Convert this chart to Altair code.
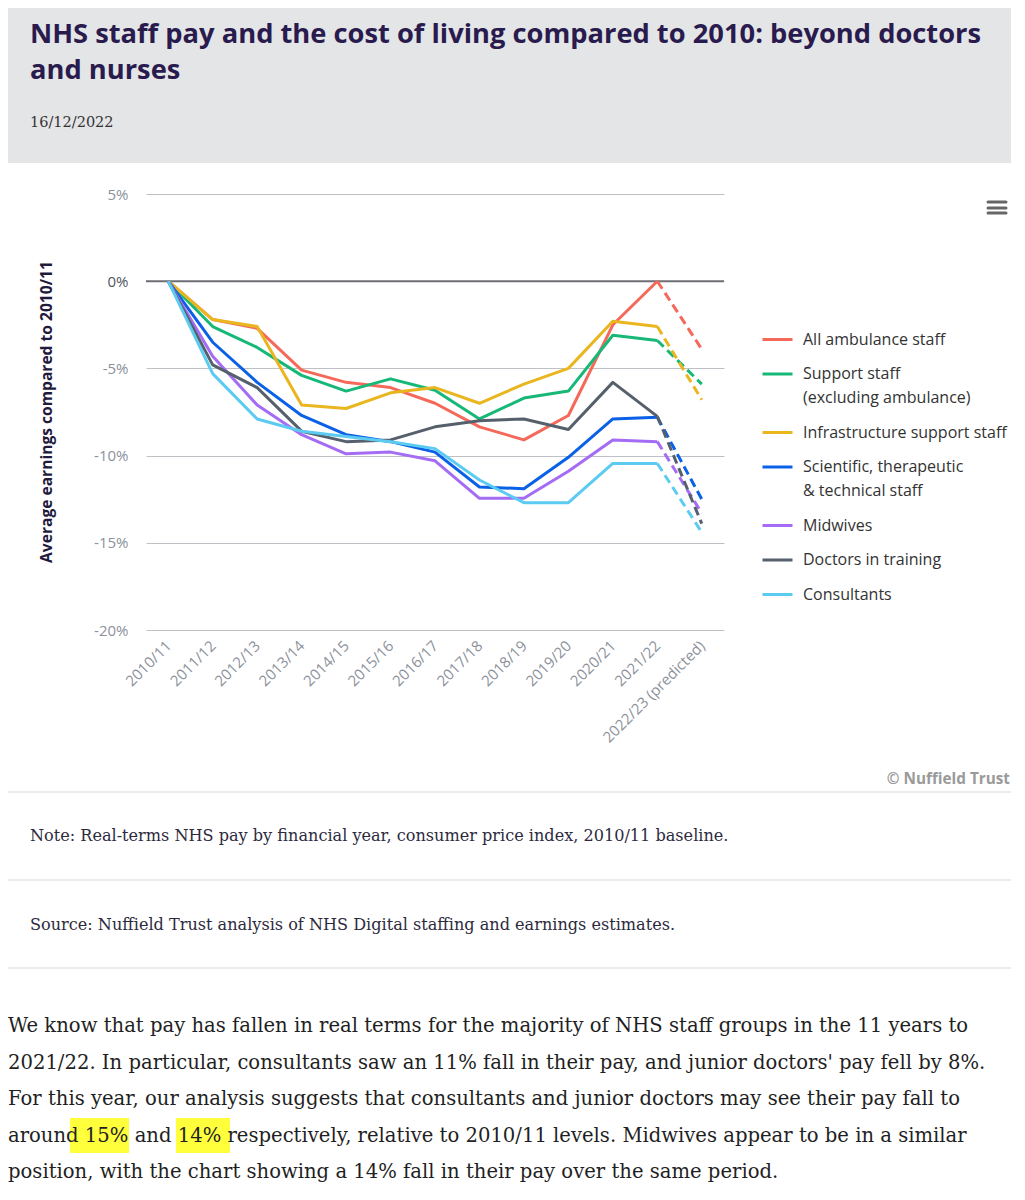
import altair as alt
import pandas as pd

years = ["2010/11", "2011/12", "2012/13", "2013/14", "2014/15", "2015/16", "2016/17",
         "2017/18", "2018/19", "2019/20", "2020/21", "2021/22", "2022/23 (predicted)"]
series = ["All ambulance staff", "Support staff (excluding ambulance)",
          "Infrastructure support staff", "Scientific, therapeutic & technical staff",
          "Midwives", "Doctors in training", "Consultants"]
colors = ["#f4695a", "#16b877", "#eab620", "#0a60e6", "#a46cf4", "#56606c", "#5bcbf2"]

ambulance = [0, -2.2, -2.7, -5.1, -5.8, -6.1, -7.0, -8.35, -9.1, -7.7, -2.5, 0.0, -3.9]
support = [0, -2.6, -3.8, -5.4, -6.3, -5.6, -6.25, -7.9, -6.7, -6.3, -3.1, -3.4, -5.9]
infra = [0, -2.2, -2.6, -7.1, -7.3, -6.4, -6.1, -7.0, -5.9, -5.0, -2.3, -2.6, -6.8]
scientific = [0, -3.5, -5.8, -7.7, -8.8, -9.2, -9.8, -11.8, -11.9, -10.1, -7.9, -7.8, -12.5]
midwives = [0, -4.3, -7.1, -8.8, -9.9, -9.8, -10.3, -12.45, -12.45, -10.9, -9.1, -9.2, -13.3]
doctors = [0, -4.8, -6.1, -8.6, -9.2, -9.1, -8.35, -8.0, -7.9, -8.5, -5.8, -7.75, -13.9]
consultants = [0, -5.3, -7.9, -8.6, -8.9, -9.2, -9.6, -11.4, -12.7, -12.7, -10.45, -10.45, -14.4]

values_by_series = [ambulance, support, infra, scientific, midwives, doctors, consultants]

title_lines = ["NHS staff pay and the cost of living compared to 2010: beyond doctors",
               "and nurses"]
date_text = "16/12/2022"
y_title = "Average earnings compared to 2010/11"
note_text = "Note: Real-terms NHS pay by financial year, consumer price index, 2010/11 baseline."
source_text = "Source: Nuffield Trust analysis of NHS Digital staffing and earnings estimates."
credit_text = "© Nuffield Trust"
paragraph = [
    "We know that pay has fallen in real terms for the majority of NHS staff groups in the 11 years to",
    "2021/22. In particular, consultants saw an 11% fall in their pay, and junior doctors' pay fell by 8%.",
    "For this year, our analysis suggests that consultants and junior doctors may see their pay fall to",
    "around 15% and 14% respectively, relative to 2010/11 levels. Midwives appear to be in a similar",
    "position, with the chart showing a 14% fall in their pay over the same period.",
]

rows = []
for s, vals in zip(series, values_by_series):
    for i, (yr, v) in enumerate(zip(years, vals)):
        rows.append({"series": s, "year": yr, "idx": i, "value": v})
df = pd.DataFrame(rows)
solid_df = df[df["idx"] <= 11]
dash_df = df[df["idx"] >= 11]
one = pd.DataFrame({"k": [0]})

SANS = "Open Sans"
SERIF = "DejaVu Serif"

x_enc = alt.X("year:N", sort=years, title=None,
              scale=alt.Scale(type="point", padding=0.5),
              axis=alt.Axis(labelAngle=-45, labelAlign="right", labelBaseline="middle",
                            labelFont=SANS, labelFontSize=15, labelColor="#8c919b",
                            ticks=False, domain=False, grid=False, labelPadding=13,
                            labelOverlap=False))
y_enc = alt.Y("value:Q", title=None,
              scale=alt.Scale(domain=[-20, 5], nice=False, zero=False),
              axis=alt.Axis(values=[-20, -15, -10, -5, 0, 5],
                            labelExpr="datum.value + '%'",
                            labelFont=SANS, labelFontSize=15,
                            labelColor={"condition": {"test": "datum.value === 0", "value": "#50555e"},
                                        "value": "#8c919b"},
                            ticks=False, domain=False, grid=True,
                            gridColor="#bfc0c6", gridWidth=1, labelPadding=18))
color_enc = alt.Color("series:N", sort=series,
                      scale=alt.Scale(domain=series, range=colors),
                      legend=alt.Legend(
                          title=None, orient="none", legendX=615, legendY=129,
                          symbolType="stroke", symbolStrokeWidth=3, symbolSize=900,
                          labelFont=SANS, labelFontSize=16, labelColor="#333333",
                          labelOffset=9, labelLimit=320, rowPadding=9.5, padding=0,
                          labelExpr=("datum.label == 'Support staff (excluding ambulance)' ? "
                                     "['Support staff', '(excluding ambulance)'] : "
                                     "datum.label == 'Scientific, therapeutic & technical staff' ? "
                                     "['Scientific, therapeutic', '& technical staff'] : datum.label")))

# page decoration
header = alt.Chart(one).mark_rect(color="#e4e5e7").encode(
    x=alt.value(-146), x2=alt.value(876), y=alt.value(-194), y2=alt.value(-31))
title = alt.Chart(one).mark_text(
    text=title_lines, font=SANS, fontSize=27.3, fontWeight="bold", color="#2a1b4e",
    align="left", baseline="alphabetic", lineHeight=36).encode(
    x=alt.value(-116), y=alt.value(-151))
date = alt.Chart(one).mark_text(
    text=date_text, font=SERIF, fontSize=14.5, color="#333333",
    align="left", baseline="alphabetic").encode(x=alt.value(-116), y=alt.value(-67))
box_right = alt.Chart(one).mark_rule(color="#e6e6e8", strokeWidth=1.5).encode(
    x=alt.value(869), y=alt.value(-31), y2=alt.value(774))
sep_rules = [alt.Chart(one).mark_rule(color="#e6e6e8", strokeWidth=1.5).encode(
    x=alt.value(-146), x2=alt.value(870), y=alt.value(yv)) for yv in (598, 686, 774)]
menu = [alt.Chart(one).mark_rule(color="#666666", strokeWidth=3, strokeCap="round").encode(
    x=alt.value(842), x2=alt.value(860), y=alt.value(yv)) for yv in (8, 14, 19)]
credit = alt.Chart(one).mark_text(
    text=credit_text, font=SANS, fontSize=15.3, fontWeight="bold", color="#9a9a9a",
    align="right", baseline="middle").encode(x=alt.value(864), y=alt.value(585))
note = alt.Chart(one).mark_text(
    text=note_text, font=SERIF, fontSize=16.1, color="#2d2a3e",
    align="left", baseline="middle").encode(x=alt.value(-116), y=alt.value(642))
source = alt.Chart(one).mark_text(
    text=source_text, font=SERIF, fontSize=16.1, color="#2d2a3e",
    align="left", baseline="middle").encode(x=alt.value(-116), y=alt.value(731))
hl1 = alt.Chart(one).mark_rect(color="#ffff3c").encode(
    x=alt.value(-76), x2=alt.value(-17), y=alt.value(924), y2=alt.value(959))
hl2 = alt.Chart(one).mark_rect(color="#ffff3c").encode(
    x=alt.value(30), x2=alt.value(84), y=alt.value(924), y2=alt.value(959))
para = alt.Chart(one).mark_text(
    text=paragraph, font=SERIF, fontSize=19.6, color="#1f1f24",
    align="left", baseline="alphabetic", lineHeight=36.5).encode(
    x=alt.value(-138), y=alt.value(838))
ytitle = alt.Chart(one).mark_text(
    text=y_title, font=SANS, fontSize=15.6, fontWeight="bold", color="#221a3d",
    angle=270, align="center", baseline="middle").encode(x=alt.value(-99), y=alt.value(218))

zero = alt.Chart(one).mark_rule(color="#6d6e73", strokeWidth=2).encode(
    y=alt.datum(0), x=alt.value(0), x2=alt.value(578))

solid = alt.Chart(solid_df).mark_line(strokeWidth=3, strokeJoin="round").encode(
    x=x_enc, y=y_enc, color=color_enc, order="idx:Q")
dashed = alt.Chart(dash_df).mark_line(strokeWidth=3, strokeDash=[9, 5]).encode(
    x=x_enc, y=y_enc, color=color_enc, order="idx:Q")

chart = alt.layer(
    header, title, date, box_right, *sep_rules, *menu, credit, note, source,
    hl1, hl2, para, ytitle, zero, solid, dashed
).properties(
    width=578, height=436,
    background="white",
    autosize=alt.AutoSizeParams(type="none"),
    padding={"left": 138, "top": 186, "right": 287, "bottom": 554},
).configure(
    view={"strokeOpacity": 0},
    style={"guide-label": {"lineHeight": 24}},
)

chart.save("out.html", embed_options={"renderer": "svg", "actions": False})
